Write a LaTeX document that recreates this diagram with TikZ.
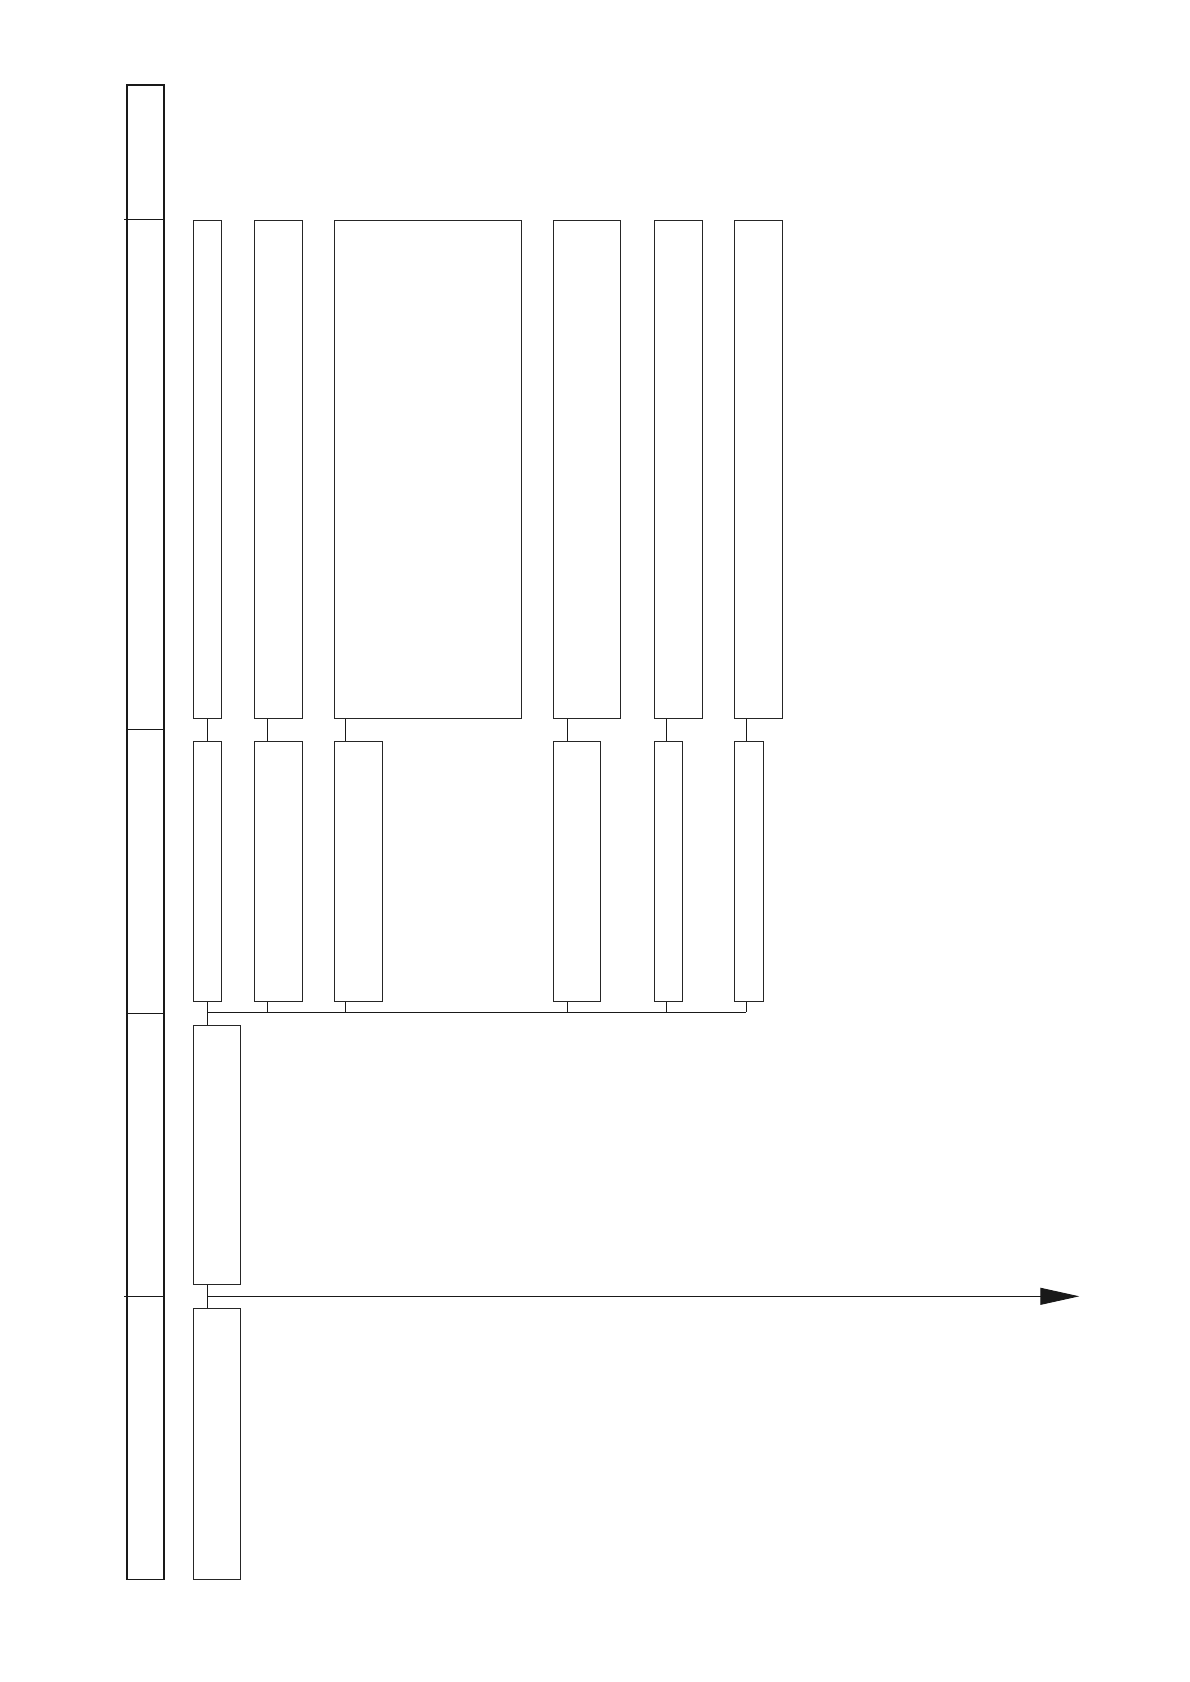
\documentclass[tikz,border=0pt]{standalone}
\usetikzlibrary{arrows.meta}
\begin{document}
\begin{tikzpicture}[x=1pt,y=-1pt,
  boxst/.style={draw=black!85,line width=0.9pt,rectangle,inner sep=0pt,anchor=north west},
  lanest/.style={draw=black!90,line width=1.7pt},
  divst/.style={draw=black!90,line width=0.9pt},
  linkst/.style={draw=black!90,line width=0.9pt}]
\useasboundingbox (0,0) rectangle (1190,1682);
% lane bar
\node[lanest,rectangle,inner sep=0pt,anchor=north west,minimum width=37.3pt,minimum height=1494.7pt] (lane) at (126,84) {};
\draw[divst] (124,219.3) -- (163.3,219.3);
\draw[divst] (126,729.3) -- (163.3,729.3);
\draw[divst] (126,1013) -- (163.3,1013);
\draw[divst] (124,1296.3) -- (163.3,1296.3);
% row 1
\node[boxst,minimum width=27.7pt,minimum height=498pt] (b1) at (193,219.7) {};
\node[boxst,minimum width=48pt,minimum height=498pt] (b2) at (254.3,219.7) {};
\node[boxst,minimum width=186.4pt,minimum height=498pt] (b3) at (334.3,219.7) {};
\node[boxst,minimum width=67.3pt,minimum height=498pt] (b4) at (553,219.7) {};
\node[boxst,minimum width=48pt,minimum height=498pt] (b5) at (654,219.7) {};
\node[boxst,minimum width=48pt,minimum height=498pt] (b6) at (734.3,219.7) {};
% row 2
\node[boxst,minimum width=27.7pt,minimum height=259.7pt] (c1) at (193,741.3) {};
\node[boxst,minimum width=47.4pt,minimum height=259.7pt] (c2) at (254.3,741.3) {};
\node[boxst,minimum width=47.4pt,minimum height=259.7pt] (c3) at (334.3,741.3) {};
\node[boxst,minimum width=47.3pt,minimum height=259.7pt] (c4) at (553,741.3) {};
\node[boxst,minimum width=27.7pt,minimum height=259.7pt] (c5) at (654,741.3) {};
\node[boxst,minimum width=28.4pt,minimum height=259.7pt] (c6) at (734.3,741.3) {};
% row 3 and 4
\node[boxst,minimum width=47.3pt,minimum height=259.6pt] (d1) at (193,1024.7) {};
\node[boxst,minimum width=47.3pt,minimum height=270.7pt] (e1) at (193,1308.3) {};
% connector x positions
\coordinate (x1) at (207.3,0);
\coordinate (x2) at (267.3,0);
\coordinate (x3) at (345.3,0);
\coordinate (x4) at (567.3,0);
\coordinate (x5) at (666.3,0);
\coordinate (x6) at (746.3,0);
\coordinate (busy) at (0,1012.3);
\coordinate (arry) at (0,1296.3);
\coordinate (tip) at (1079.3,1296.3);
% row1 -> row2
\foreach \i in {1,...,6}{
  \draw[linkst] (b\i.south -| x\i) -- (c\i.north -| x\i);
}
% row2 -> bus
\foreach \i in {2,...,6}{
  \draw[linkst] (c\i.south -| x\i) -- (busy -| x\i);
}
\draw[linkst] (busy -| x1) -- (busy -| x6);
\draw[linkst] (c1.south -| x1) -- (d1.north -| x1);
% row3 -> row4
\draw[linkst] (d1.south -| x1) -- (e1.north -| x1);
% arrow
\draw[linkst,-{Triangle[length=39pt,width=17pt]}] (arry -| x1) -- (tip);
\end{tikzpicture}
\end{document}
